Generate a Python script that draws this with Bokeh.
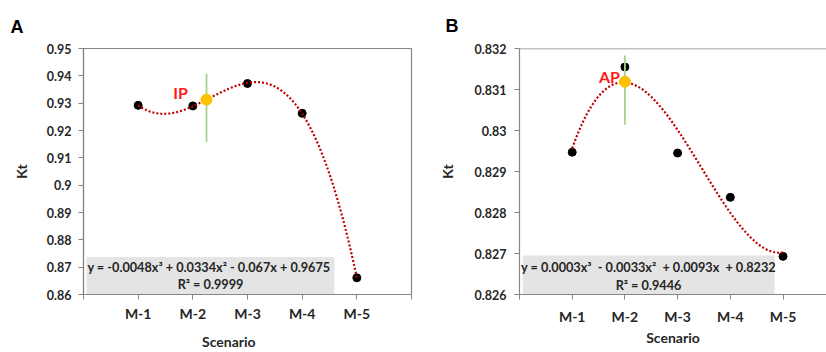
import numpy as np
from bokeh.plotting import figure
from bokeh.layouts import row
from bokeh.models import (FixedTicker, CustomJSTickFormatter, Label, BoxAnnotation, Span, Range1d)
from bokeh.embed import file_html
from bokeh.resources import INLINE

# ---------------- data ----------------
scenarios = ["M-1", "M-2", "M-3", "M-4", "M-5"]
x_pos = [1, 2, 3, 4, 5]

kt_a = [0.9292, 0.9290, 0.9372, 0.9263, 0.8661]
kt_b = [0.82947, 0.83155, 0.82945, 0.82837, 0.82693]

ip_point = (2.25, 0.9313)        # inflection point, panel A
ip_bar = (0.9158, 0.9408)
ap_point = (2.0, 0.83119)        # apex point, panel B
ap_bar = (0.83014, 0.83183)

yticks_a = [0.86, 0.87, 0.88, 0.89, 0.90, 0.91, 0.92, 0.93, 0.94, 0.95]
yticks_b = [0.826, 0.827, 0.828, 0.829, 0.830, 0.831, 0.832]

eq_a = "y = -0.0048x\u00b3 + 0.0334x\u00b2  - 0.067x + 0.9675"
r2_a = "R\u00b2 = 0.9999"
eq_b = "y = 0.0003x\u00b3\u00a0 - 0.0033x\u00b2\u00a0 + 0.0093x\u00a0 + 0.8232"
r2_b = "R\u00b2 = 0.9446"

FONT = "Lato"
TXT = "#262626"
AX = "#868686"
NB = "\u00a0"


def make_panel(letter, kt, yticks, yrange, xrange, width, borders, pt, bar, pt_label,
               pt_label_pos, eq, r2, box, eq_pos, x_standoff, y_standoff,
               kt_standoff, scen_text, scen_standoff, letter_offset, letter_standoff, outline):
    left, right, top, bottom = borders
    p = figure(width=width, height=352, output_backend="svg", toolbar_location=None,
               x_range=Range1d(*xrange), y_range=Range1d(*yrange),
               min_border_left=left, min_border_right=right,
               min_border_top=top, min_border_bottom=bottom)
    p.grid.visible = False
    p.background_fill_color = "white"
    p.border_fill_color = "white"
    if outline:
        p.outline_line_color = AX
        p.outline_line_width = 1.2
    else:
        p.outline_line_color = None
        p.add_layout(Span(location=yrange[1], dimension="width", line_color=AX, line_width=1.5))

    # panel letter as title
    p.title.text = letter
    p.title.align = "left"
    p.title.offset = letter_offset
    p.title.text_font = "Liberation Sans"
    p.title.text_font_style = "bold"
    p.title.text_font_size = "18px"
    p.title.text_color = "black"
    p.title.standoff = letter_standoff

    # axes
    p.xaxis.ticker = FixedTicker(ticks=[0] + x_pos + [6])
    p.xaxis.major_label_overrides = {0: "", 6: "", **{x: s for x, s in zip(x_pos, scenarios)}}
    p.yaxis.ticker = FixedTicker(ticks=yticks)
    p.yaxis.formatter = CustomJSTickFormatter(code="return String(Number(tick.toFixed(6)));")
    for ax in (p.xaxis[0], p.yaxis[0]):
        ax.axis_line_color = AX
        ax.axis_line_width = 1.2
        ax.major_tick_line_color = AX
        ax.major_tick_in = 0
        ax.major_tick_out = 5
        ax.minor_tick_line_color = None
        ax.major_label_text_font = FONT
        ax.major_label_text_font_style = "bold"
        ax.major_label_text_color = TXT
        ax.axis_label_text_font = FONT
        ax.axis_label_text_font_style = "bold"
        ax.axis_label_text_font_size = "14px"
        ax.axis_label_text_color = TXT
    p.xaxis.major_label_text_font_size = "14px"
    p.yaxis.major_label_text_font_size = "12.5px"
    p.xaxis.major_label_standoff = x_standoff
    p.yaxis.major_label_standoff = y_standoff
    p.yaxis.axis_label = "Kt"
    p.yaxis.axis_label_standoff = kt_standoff
    p.xaxis.axis_label = scen_text
    p.xaxis.axis_label_standoff = scen_standoff

    # equation box
    p.add_layout(BoxAnnotation(left=box[0], right=box[1], bottom=box[2], top=box[3],
                               fill_color="#e4e4e4", fill_alpha=1.0, line_color=None,
                               level="underlay"))

    # data points
    p.scatter(x_pos, kt, size=8, color="black")

    # cubic trend line fitted to the points
    coef = np.polyfit(x_pos, kt, 3)
    xs = np.linspace(1, 5, 200)
    p.line(xs, np.polyval(coef, xs), line_color="#c00000", line_width=2.2, line_dash="2 2")

    # marker line and point
    p.segment(x0=[pt[0]], y0=[bar[0]], x1=[pt[0]], y1=[bar[1]], line_color="#a9d18e", line_width=1.8)
    p.scatter([pt[0]], [pt[1]], size=11, color="#ffc000")

    p.add_layout(Label(x=pt_label_pos[0], y=pt_label_pos[1], text=pt_label, text_font=FONT,
                       text_font_style="bold", text_font_size="16px", text_color="#ff1a1a",
                       text_align="center", text_baseline="middle"))

    # equation text
    for txt, yy in ((eq, eq_pos[1]), (r2, eq_pos[2])):
        p.add_layout(Label(x=eq_pos[0], y=yy, x_units="screen", y_units="screen", text=txt,
                           text_font=FONT, text_font_style="bold", text_font_size="12.7px",
                           text_color=TXT, text_align="center", text_baseline="middle"))
    return p


pa = make_panel("A", kt_a, yticks_a, (0.86, 0.95), (0, 6), 420, (83, 9, 45, 57),
                ip_point, ip_bar, "IP", (1.774, 0.9338), eq_a, r2_a,
                (0.055, 4.59, 0.86, 0.8737), (127, 28, 11), 5, 7, 14,
                "Scenario" + NB * 11, 8, -73, 24, True)
pb = make_panel("B", kt_b, yticks_b, (0.826, 0.832), (0, 5.825), 406, (99, 0, 48, 53),
                ap_point, ap_bar, "AP", (1.708, 0.83132), eq_b, r2_b,
                (0.06, 4.84, 0.826, 0.82695), (129, 28, 10), 8, 8, 16,
                "Scenario", 1, -74, 26, False)

layout = row(pa, pb)
open("out.html", "w").write(file_html(layout, INLINE))
